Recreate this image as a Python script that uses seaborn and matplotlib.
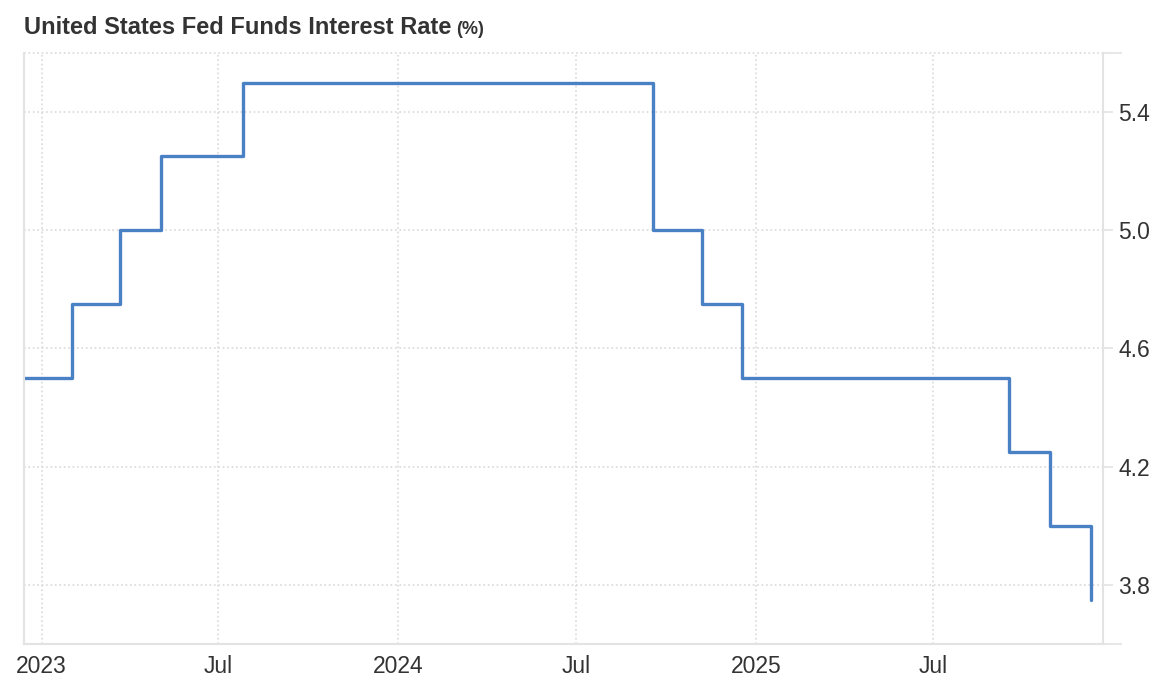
import pandas as pd
import seaborn as sns
import matplotlib.pyplot as plt
import matplotlib.dates as mdates

sns.set_style("white")
plt.rcParams['font.family'] = ['Liberation Sans', 'DejaVu Sans']

# fed funds upper bound, date of each change
dates = ['2022-12-14', '2023-02-01', '2023-03-22', '2023-05-03', '2023-07-26',
         '2024-09-18', '2024-11-07', '2024-12-18', '2025-09-17', '2025-10-29',
         '2025-12-10']
rates = [4.5, 4.75, 5.0, 5.25, 5.5, 5.0, 4.75, 4.5, 4.25, 4.0, 3.75]

tick_dates = ['2023-01-01', '2023-07-01', '2024-01-01', '2024-07-01', '2025-01-01', '2025-07-01']
tick_labels = ['2023', 'Jul', '2024', 'Jul', '2025', 'Jul']
y_ticks = [3.8, 4.2, 4.6, 5.0, 5.4]

df = pd.DataFrame({'Date': pd.to_datetime(dates), 'Rate': rates})

grey = '#e3e3e3'
text_col = '#333333'

fig = plt.figure(figsize=(11.64, 6.85), dpi=100)
ax = fig.add_axes([0.0206, 0.0599, 0.9270, 0.8627])

sns.lineplot(data=df, x='Date', y='Rate', ax=ax, color='#4a80c4', lw=2.4,
             drawstyle='steps-post')

ax.set_xlim(pd.Timestamp('2022-12-14'), pd.Timestamp('2025-12-22'))
ax.set_ylim(3.6, 5.6)

ax.set_xticks(pd.to_datetime(tick_dates))
ax.set_xticklabels(tick_labels)
ax.set_yticks(y_ticks)
ax.set_yticklabels([f'{v:.1f}' for v in y_ticks])
ax.yaxis.tick_right()
ax.set_yticks([3.6, 5.6], minor=True)

ax.grid(True, which='major', linestyle=':', color='#d9d9d9', lw=1.2)
ax.axhline(5.6, linestyle=':', color='#d9d9d9', lw=1.2, clip_on=False)
ax.tick_params(axis='x', length=0, pad=8, labelsize=16.5, labelcolor=text_col)
ax.tick_params(axis='y', which='major', length=7, width=1.2, color=grey, pad=4,
               labelsize=16.5, labelcolor=text_col, right=True, left=False)
ax.tick_params(axis='y', which='minor', length=14, width=1.2, color=grey, right=True, left=False)

for side in ['left', 'bottom', 'right']:
    ax.spines[side].set_color(grey)
    ax.spines[side].set_linewidth(1.5)
ax.spines['top'].set_visible(False)

ax.set_xlabel('')
ax.set_ylabel('')

t = fig.text(0.0206, 0.950, 'United States Fed Funds Interest Rate', fontsize=17,
             fontweight='bold', color=text_col, va='baseline')
fig.canvas.draw()
bb = t.get_window_extent()
fig.text((bb.x1 + 5) / fig.bbox.width, 0.950, '(%)', fontsize=13,
         fontweight='bold', color=text_col, va='baseline')

fig.savefig('out.png', dpi=100)
